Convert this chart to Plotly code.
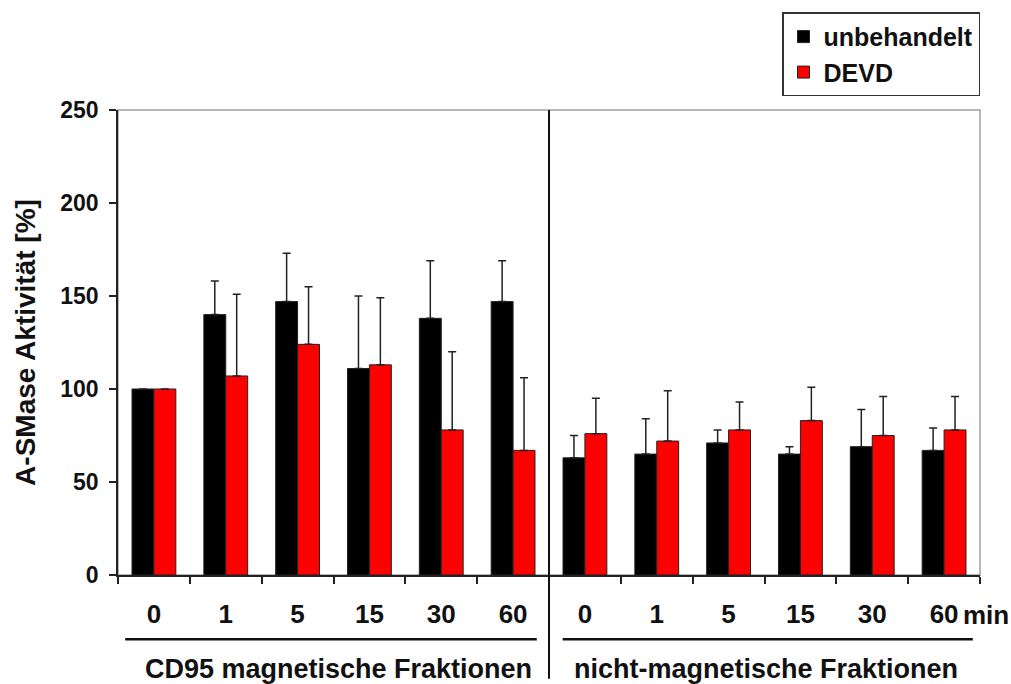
import plotly.graph_objects as go

################################
# Data

zeiten = ["0", "1", "5", "15", "30", "60", "0", "1", "5", "15", "30", "60"]
positionen = list(range(len(zeiten)))

unbehandelt = [100, 140, 147, 111, 138, 147, 63, 65, 71, 65, 69, 67]
unbehandelt_err = [0, 18, 26, 39, 31, 22, 12, 19, 7, 4, 20, 12]

devd = [100, 107, 124, 113, 78, 67, 76, 72, 78, 83, 75, 78]
devd_err = [0, 44, 31, 36, 42, 39, 19, 27, 15, 18, 21, 18]

gruppen = ["CD95 magnetische Fraktionen", "nicht-magnetische Fraktionen"]

FONT = "Liberation Sans, Arial, sans-serif"

################################
# Figure

fig = go.Figure()

fig.add_trace(go.Bar(
    x=positionen, y=unbehandelt, name="unbehandelt",
    marker=dict(color="#000000", line=dict(color="#222222", width=1)),
    error_y=dict(type="data", array=unbehandelt_err, arrayminus=[0]*12,
                 symmetric=False, color="#222222", thickness=1.5, width=4),
))
fig.add_trace(go.Bar(
    x=positionen, y=devd, name="DEVD",
    marker=dict(color="#ff0000", line=dict(color="#222222", width=1)),
    error_y=dict(type="data", array=devd_err, arrayminus=[0]*12,
                 symmetric=False, color="#222222", thickness=1.5, width=4),
))

# plot frame (grey top/right edges)
fig.add_shape(type="rect", xref="paper", yref="paper", x0=0, y0=0, x1=1, y1=1,
              line=dict(color="#a0a0a0", width=1.5), layer="below")
# divider between the two fractions
fig.add_shape(type="line", xref="x", yref="paper", x0=5.5, x1=5.5, y0=-0.223, y1=1,
              line=dict(color="#111111", width=2))
# underlines of the group labels
fig.add_shape(type="line", xref="x", yref="paper", x0=-0.40, x1=5.33, y0=-0.138, y1=-0.138,
              line=dict(color="#111111", width=2.5))
fig.add_shape(type="line", xref="x", yref="paper", x0=5.69, x1=11.40, y0=-0.138, y1=-0.138,
              line=dict(color="#111111", width=2.5))

for xpos, txt in zip([2.57, 8.52], gruppen):
    fig.add_annotation(x=xpos, y=-0.202, xref="x", yref="paper", text=txt,
                       xanchor="center", yanchor="middle", showarrow=False,
                       font=dict(family=FONT, size=27, color="#111111", weight="bold"))
fig.add_annotation(x=11.24, y=-0.085, xref="x", yref="paper", text="min",
                   xanchor="left", yanchor="middle", showarrow=False,
                   font=dict(family=FONT, size=26, color="#111111", weight="bold"))

fig.update_layout(
    width=1011, height=684,
    margin=dict(l=118, r=31, t=105, b=109),
    paper_bgcolor="white", plot_bgcolor="white",
    barmode="group", bargap=0.39, bargroupgap=0,
    font=dict(family=FONT, color="#111111"),
    legend=dict(x=1.0, xanchor="right", y=1.21, yanchor="top",
                bordercolor="#333333", borderwidth=1.5, bgcolor="white",
                font=dict(family=FONT, size=25, color="#111111", weight="bold")),
    xaxis=dict(
        range=[-0.5, 11.5], tickvals=positionen, ticktext=zeiten,
        ticks="", showgrid=False, zeroline=False,
        showline=True, linecolor="#222222", linewidth=1.5,
        ticklabelstandoff=15,
        tickfont=dict(family=FONT, size=26, color="#111111", weight="bold"),
        minor=dict(tickvals=[i - 0.5 for i in range(13)], ticks="outside",
                   ticklen=7, tickcolor="#222222", tickwidth=1.5),
    ),
    yaxis=dict(
        range=[0, 250], dtick=50, ticks="outside", ticklen=7,
        tickcolor="#222222", tickwidth=1.5,
        showgrid=False, zeroline=False,
        showline=True, linecolor="#222222", linewidth=1.5,
        ticklabelstandoff=6,
        tickfont=dict(family=FONT, size=23, color="#111111", weight="bold"),
        title=dict(text="A-SMase Aktivität [%]", standoff=16,
                   font=dict(family=FONT, size=28, color="#111111", weight="bold")),
    ),
)

# the page's default body margin would shift the figure by 8px and add scrollbars
fig.write_html("out.html", config={"displayModeBar": False},
               post_script="document.body.style.margin='0';")
